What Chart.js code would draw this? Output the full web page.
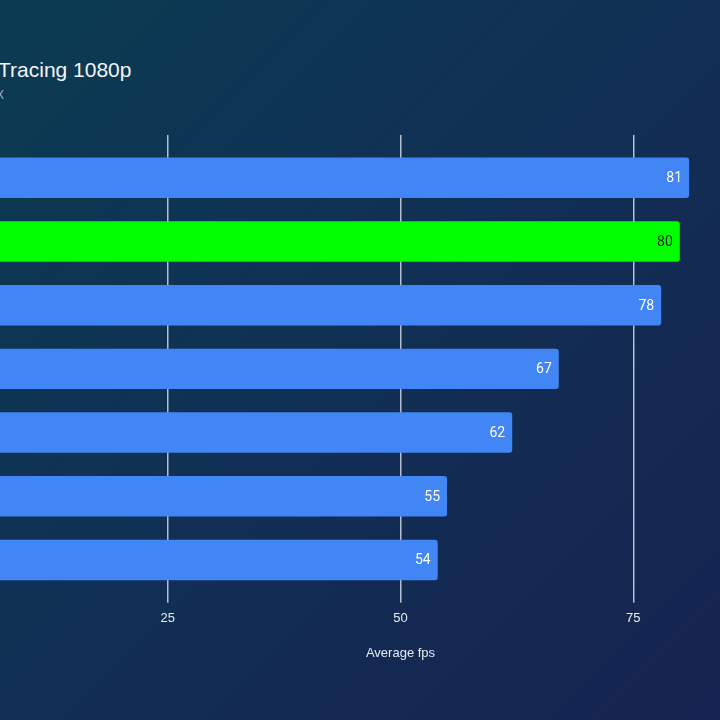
<!DOCTYPE html>
<html>
<head>
<meta charset="utf-8">
<script src="https://cdn.jsdelivr.net/npm/chart.js@4.4.1/dist/chart.umd.min.js"></script>
<style>
    html, body {
        margin: 0;
        width: 720px;
        height: 720px;
        overflow: hidden;
        background: linear-gradient(135deg, #0b3b52 0%, #112f55 50%, #172350 100%);
        font-family: "Liberation Sans", Arial, sans-serif;
    }
    #title {
        position: absolute;
        left: -2px;
        top: 59px;
        font-size: 21px;
        line-height: 21px;
        color: #f2f5f8;
        white-space: nowrap;
    }
    #subtitle {
        position: absolute;
        left: -4px;
        top: 89px;
        font-size: 12px;
        line-height: 12px;
        color: #a9b5c4;
    }
    /* the reference is cropped on both sides, so the canvas is wider than the page */
    #wrap {
        position: absolute;
        left: -65px;
        top: 0;
        width: 931px;
        height: 720px;
    }
</style>
</head>
<body>
<div id="title">Tracing 1080p</div>
<div id="subtitle">X</div>
<div id="wrap"><canvas id="fpsChart"></canvas></div>
<script>
// category names are cropped out of the reference picture
const categories = ['', '', '', '', '', '', ''];
const fpsValues = [81, 80, 78, 67, 62, 55, 54];
const barColors = ['#4285f4', '#00ff00', '#4285f4', '#4285f4', '#4285f4', '#4285f4', '#4285f4'];
const labelColors = ['#ffffff', '#1d2a1d', '#ffffff', '#ffffff', '#ffffff', '#ffffff', '#ffffff'];
const xTicks = [25, 50, 75];
const axisTitle = 'Average fps';

const gridColor = '#b3bfcd';

// values written inside the end of each bar
const barValueLabels = {
    id: 'barValueLabels',
    afterDatasetsDraw(chart) {
        const ctx = chart.ctx;
        const meta = chart.getDatasetMeta(0);
        ctx.save();
        ctx.font = '14px Roboto, "Liberation Sans", sans-serif';
        ctx.textAlign = 'right';
        ctx.textBaseline = 'middle';
        meta.data.forEach(function(bar, i) {
            ctx.fillStyle = labelColors[i];
            ctx.fillText(String(fpsValues[i]), bar.x - 7, bar.y + 1);
        });
        ctx.restore();
    }
};

function fixedTicks(scale) {
    scale.ticks = xTicks.map(v => ({ value: v }));
}

new Chart(document.getElementById('fpsChart'), {
    type: 'bar',
    data: {
        labels: categories,
        datasets: [{
            data: fpsValues,
            backgroundColor: barColors,
            borderRadius: 3,
            borderSkipped: 'start',
            categoryPercentage: 1,
            barPercentage: 0.635
        }]
    },
    options: {
        indexAxis: 'y',
        responsive: true,
        maintainAspectRatio: false,
        animation: false,
        layout: {
            padding: { top: 135, bottom: 55, left: 0, right: 0 }
        },
        scales: {
            x: {
                type: 'linear',
                position: 'bottom',
                min: 0,
                max: 100,
                afterBuildTicks: fixedTicks,
                border: { display: false },
                grid: {
                    color: gridColor,
                    lineWidth: 1.5,
                    tickLength: 11
                },
                ticks: {
                    color: '#e6ebf2',
                    padding: 8,
                    font: { family: '"Liberation Sans", Arial, sans-serif', size: 13 }
                },
                title: {
                    display: true,
                    text: axisTitle,
                    color: '#e6ebf2',
                    padding: { top: 11, bottom: 4 },
                    font: { family: '"Liberation Sans", Arial, sans-serif', size: 13 }
                }
            },
            // only used to let the grid lines poke above the first bar
            x2: {
                type: 'linear',
                position: 'top',
                min: 0,
                max: 100,
                afterBuildTicks: fixedTicks,
                border: { display: false },
                grid: {
                    color: gridColor,
                    lineWidth: 1.5,
                    tickLength: 11,
                    drawOnChartArea: false
                },
                ticks: { display: false }
            },
            y: {
                display: false
            }
        },
        plugins: {
            legend: { display: false },
            tooltip: { enabled: false }
        }
    },
    plugins: [barValueLabels]
});
</script>
</body>
</html>
